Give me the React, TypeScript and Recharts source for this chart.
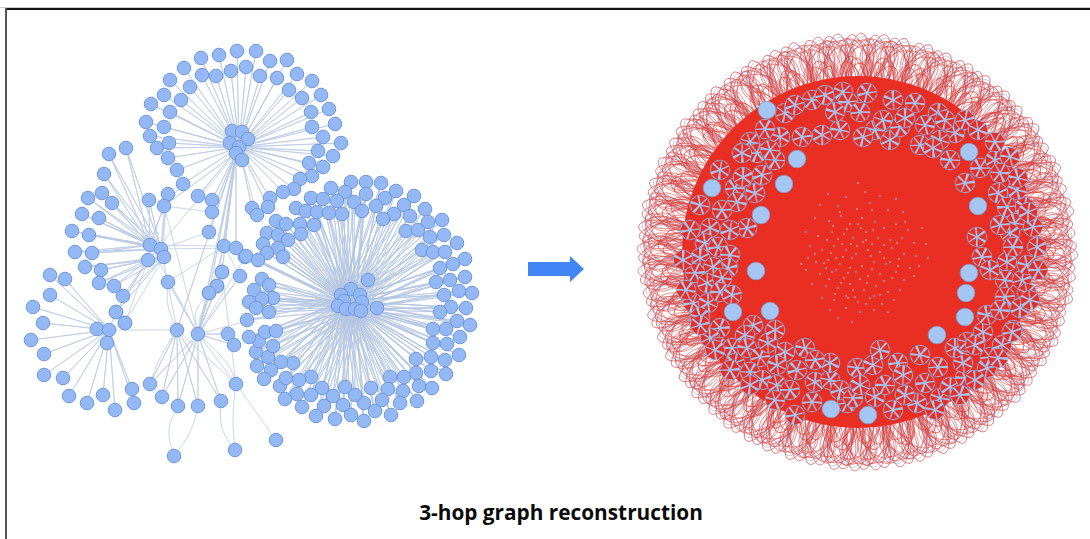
import { ComposedChart, Line, Scatter, XAxis, YAxis } from "recharts";

type Pair = [number, number];

const title = "3-hop graph reconstruction";

const topHubNodes: Pair[] = [[232,131],[242,132],[248,139],[230,143],[239,147],[236,153],[242,160]];
const topLeaves: Pair[] = [[201,58],[219,55],[237,51],[256,51],[184,68],[202,75],[216,76],[231,71],[246,67],[260,76],[170,80],[190,87],[164,95],[181,100],[151,104],[170,112],[146,122],[164,127],[150,136],[157,148],[169,143],[168,158],[177,170],[183,184],[198,196],[270,61],[287,60],[277,78],[297,74],[312,81],[289,90],[302,98],[321,95],[329,109],[311,112],[312,127],[335,124],[323,137],[341,143],[318,151],[333,156],[309,163],[323,167],[312,176],[300,179],[294,189],[283,192],[270,198],[268,207],[252,208],[257,215]];
const topCross: Pair[] = [[212,200],[212,212],[209,232],[224,246],[236,248],[222,272],[217,286],[209,293],[198,334],[177,330],[164,206],[148,260]];
const leftHub: Pair[] = [[150,245],[161,249]];
const leftLeaves: Pair[] = [[126,148],[109,154],[104,174],[102,193],[88,198],[112,203],[82,214],[99,218],[72,231],[89,235],[75,252],[92,253],[149,200],[168,194],[164,206]];
const midHub: Pair[] = [[148,260],[164,257]];
const midLeaves: Pair[] = [[85,267],[101,270],[99,283],[114,286],[123,296],[116,312],[125,323]];
const lowHub: Pair[] = [[97,329],[109,330],[107,343]];
const lowLeaves: Pair[] = [[50,275],[65,279],[50,295],[33,307],[43,323],[31,340],[44,354],[44,375],[63,378],[69,396],[87,403],[103,395],[115,410],[132,389],[134,403],[116,312],[125,323]];
const bottomHub: Pair[] = [[177,330],[198,334]];
const bottomLeaves: Pair[] = [[150,384],[162,397],[178,406],[198,406],[221,401],[236,384],[168,282],[222,272],[217,286],[209,293],[228,334],[234,345],[240,276],[245,257]];
const crossEdges: Pair[][] = [
  [[150,245],[198,334]],[[161,249],[177,330]],[[164,206],[164,257]],[[164,206],[198,334]],[[224,246],[150,245]],[[224,246],[240,276]],[[224,246],[198,334]],[[168,282],[224,246]],[[109,330],[177,330]],[[198,334],[247,321]],[[236,384],[276,440]],[[236,248],[161,249]],[[222,272],[236,384]],[[212,212],[164,206]],[[209,232],[161,249]],[[183,184],[164,206]],
];
const curvedEdges: Pair[][] = [
  [[178,406],[169,430],[174,456]],[[198,406],[190,432],[174,456]],[[221,401],[222,428],[235,450]],[[236,384],[233,418],[235,450]],[[177,330],[168,306],[168,282]],[[198,334],[202,312],[217,286]],[[198,334],[196,312],[209,293]],[[177,330],[160,358],[150,384]],[[198,334],[226,362],[236,384]],
];

const bigHubNodes: Pair[] = [[368,280],[351,289],[341,295],[360,295],[344,301],[362,302],[338,306],[346,309],[355,309],[361,311],[377,308]];
const bigLeaves: Pair[] = [[351,182],[366,182],[381,183],[396,191],[414,196],[331,188],[345,192],[366,194],[385,198],[311,198],[323,199],[337,201],[354,202],[376,206],[404,205],[425,209],[296,208],[306,211],[317,212],[329,213],[342,214],[362,211],[394,214],[410,216],[442,220],[383,219],[428,222],[276,221],[286,224],[300,224],[314,225],[406,231],[418,230],[430,237],[444,235],[457,243],[267,233],[278,235],[288,240],[301,234],[263,244],[278,248],[267,253],[283,257],[246,256],[258,260],[422,250],[433,252],[445,252],[465,259],[453,264],[440,268],[262,279],[269,285],[254,290],[273,298],[262,299],[249,302],[256,308],[269,312],[247,320],[436,282],[450,280],[465,277],[459,291],[444,295],[472,293],[451,307],[466,308],[440,312],[457,321],[470,325],[433,329],[446,329],[460,337],[433,343],[447,344],[459,355],[416,359],[431,357],[445,360],[431,371],[446,374],[416,373],[432,388],[419,386],[404,377],[390,377],[403,391],[388,389],[417,401],[400,403],[382,400],[371,388],[391,415],[375,411],[364,403],[355,395],[364,421],[351,415],[343,405],[345,387],[335,419],[333,396],[324,406],[316,416],[322,388],[311,395],[311,377],[302,407],[297,394],[299,380],[285,399],[280,386],[286,378],[293,363],[281,362],[271,370],[264,379],[257,366],[268,357],[273,346],[256,352],[259,341],[249,337],[265,332],[276,331]];
const looseNodes: Pair[] = [[276,440],[174,456],[235,450]];

const redDisk: Pair[] = [[858,252]];
const loopAnchors: Pair[] = [[1044,252],[1042,271],[1040,290],[1033,309],[1028,327],[1018,344],[1006,361],[996,376],[981,389],[968,402],[950,412],[934,421],[914,428],[897,433],[876,436],[858,437],[840,436],[820,432],[802,428],[782,421],[766,413],[748,402],[735,390],[720,376],[709,362],[697,344],[690,328],[681,309],[677,290],[672,271],[671,252],[672,233],[675,214],[681,195],[688,177],[698,160],[707,143],[722,128],[733,115],[750,102],[765,92],[784,83],[800,76],[821,71],[838,68],[858,67],[878,68],[895,71],[916,76],[932,83],[951,92],[966,102],[983,115],[994,128],[1009,143],[1017,160],[1028,177],[1033,195],[1040,214],[1041,233]];
const innerAnchors: Pair[] = [[1026,252],[1024,280],[1016,308],[1006,334],[990,358],[970,378],[948,394],[924,406],[898,416],[870,420],[842,420],[814,414],[788,404],[764,390],[742,372],[722,350],[706,326],[696,300],[690,272],[688,244],[692,216],[700,190],[712,166],[728,144],[748,126],[772,110],[798,98],[826,90],[854,86],[882,88],[910,94],[936,104],[960,118],[982,136],[1000,158],[1014,182],[1022,208],[1027,232]];
const plainNodes: Pair[] = [[712,188],[784,184],[761,215],[767,110],[756,271],[770,311],[978,206],[969,152],[966,293],[965,317],[937,335],[969,273],[831,409],[868,415],[733,312],[797,159]];
const wedgeNodes: Pair[] = [[812,100],[825,95],[843,92],[848,102],[822,135],[840,130],[802,137],[780,137],[765,129],[785,113],[750,142],[757,153],[742,153],[775,160],[762,175],[755,193],[735,188],[743,177],[737,202],[747,228],[710,228],[722,210],[730,230],[705,243],[718,247],[700,258],[730,255],[728,268],[713,267],[695,273],[707,283],[722,278],[693,303],[708,303],[720,292],[732,295],[700,317],[720,328],[710,338],[718,347],[753,325],[745,335],[732,348],[735,363],[747,348],[760,357],[768,343],[750,372],[762,380],[777,385],[790,390],[785,352],[805,348],[797,370],[777,365],[812,402],[815,382],[830,380],[847,403],[830,363],[857,368],[840,390],[873,365],[898,363],[903,375],[920,355],[893,410],[875,397],[853,398],[917,403],[940,398],[925,383],[950,387],[965,378],[987,368],[963,363],[938,367],[955,348],[967,342],[990,357],[983,332],[1013,330],[1002,345],[987,315],[982,257],[1007,262],[1005,280],[1022,280],[1027,293],[1005,297],[1020,308],[1027,265],[867,93],[893,100],[915,103],[938,113],[955,133],[920,145],[890,140],[875,130],[863,137],[940,140],[980,168],[995,160],[1010,157],[965,183],[977,237],[1000,173],[998,193],[1017,190],[1007,207],[1025,207],[1015,223],[1033,227],[1010,233],[1013,247],[1037,247],[883,120],[900,127],[933,148],[950,160],[795,105],[835,112],[860,112],[905,118],[925,125],[965,120],[978,130],[995,142],[720,170],[700,205],[690,230],[683,260],[686,290],[700,325],[715,350],[730,370],[750,385],[775,400],[795,415],[860,385],[885,385],[905,395],[935,410],[960,395],[975,380],[998,358],[1012,332],[1030,300],[1038,270],[1028,212],[1018,178],[1000,225],[990,270],[1000,310],[975,345],[880,350],[815,360],[775,330],[770,150],[945,120]];
const speckles: Pair[] = [[858,183],[865,192],[828,194],[846,197],[880,196],[896,199],[820,205],[838,206],[857,209],[870,203],[888,210],[903,212],[815,218],[829,221],[841,216],[850,224],[862,218],[875,222],[884,228],[896,224],[908,230],[922,228],[806,232],[818,236],[832,232],[844,234],[853,238],[866,232],[878,238],[890,240],[902,238],[914,243],[926,244],[810,246],[822,250],[834,246],[846,250],[857,246],[868,250],[880,252],[892,248],[904,254],[916,256],[928,258],[808,258],[816,262],[828,260],[840,264],[852,258],[862,266],[874,262],[886,264],[898,266],[910,268],[806,270],[820,274],[832,272],[844,278],[856,272],[868,276],[880,274],[892,278],[904,280],[914,276],[812,284],[826,286],[838,288],[850,284],[864,290],[876,286],[888,292],[900,290],[822,298],[834,300],[846,296],[858,302],[870,298],[882,304],[894,300],[830,310],[846,308],[860,312],[874,310],[888,312],[848,298],[836,258],[872,244],[850,268],[858,224],[842,244],[826,268],[890,262],[874,296],[840,212],[866,240],[833,226],[847,229],[861,228],[873,230],[827,240],[838,239],[851,244],[863,242],[884,245],[897,243],[815,254],[831,253],[843,257],[856,254],[871,256],[884,258],[899,259],[824,263],[836,270],[848,273],[860,279],[872,269],[884,281],[896,272],[829,279],[841,283],[853,290],[867,283],[880,295],[835,294],[855,297],[866,304],[801,264],[919,266],[905,222],[872,210],[838,318],[852,322]];
const arrowPoint: Pair[] = [[528,269]];

const toPoints = (pairs: Pair[]) => pairs.map(([x, y]) => ({ x, y }));
const star = (hub: Pair, leaves: Pair[]) =>
  leaves.flatMap((leaf) => [
    { x: hub[0], y: hub[1] },
    { x: leaf[0], y: leaf[1] },
  ]);

const leftNodes = toPoints([
  ...topHubNodes, ...topLeaves, ...topCross.slice(0, 8), ...leftHub, ...leftLeaves,
  ...midHub, ...midLeaves, ...lowHub, ...lowLeaves, ...bottomHub, ...bottomLeaves,
  ...bigHubNodes, ...bigLeaves, ...looseNodes,
]);

const edgeLine = { stroke: "#bccce5", strokeWidth: 0.8 };
const bigEdgeLine = { stroke: "#b4c6e2", strokeWidth: 0.7 };
const noDot = () => <g />;

function GraphNode({ cx, cy }: any) {
  return <circle cx={cx} cy={cy} r={6.8} fill="#93b8f3" stroke="#6f97da" strokeWidth={1} />;
}

function Disk({ cx, cy }: any) {
  return <circle cx={cx} cy={cy} r={176} fill="#e92e24" />;
}

function Loops({ cx, cy, color, tilt, rx, ry, opacity }: any) {
  const angle = (Math.atan2(cy - 252, cx - 858) * 180) / Math.PI + 90;
  return (
    <g transform={`rotate(${angle + tilt} ${cx} ${cy})`}>
      <ellipse cx={cx} cy={cy} rx={rx} ry={ry} fill="none" stroke={color} strokeWidth={0.8} opacity={opacity} />
    </g>
  );
}

function PlainNode({ cx, cy }: any) {
  return <circle cx={cx} cy={cy} r={8.8} fill="#a5c5f3" stroke="#7f9fce" strokeWidth={0.8} />;
}

const wedgeTurns = [0, 60, 125, 190, 250, 305];
function WedgeNode({ cx, cy, index }: any) {
  const spin = (index * 37) % 360;
  return (
    <g>
      <circle cx={cx} cy={cy} r={10} fill="#a5c5f3" stroke="#7f9fce" strokeWidth={0.5} />
      {wedgeTurns.map((turn) => (
        <path
          key={turn}
          d={`M${cx - 4} ${cy - 9}L${cx + 4} ${cy - 9}L${cx} ${cy - 1.5}Z`}
          fill="#e92e24"
          transform={`rotate(${turn + spin} ${cx} ${cy})`}
        />
      ))}
    </g>
  );
}

function Speckle({ cx, cy }: any) {
  return <circle cx={cx} cy={cy} r={1} fill="#c9a6ae" opacity={0.85} />;
}

function Arrow({ cx, cy }: any) {
  return (
    <path
      d={`M${cx} ${cy - 7}H${cx + 42}V${cy - 13}L${cx + 56} ${cy}L${cx + 42} ${cy + 13}V${cy + 7}H${cx}Z`}
      fill="#4285f4"
    />
  );
}

const loopStyles = [
  { color: "#a9bfdf", tilt: 12, rx: 13, ry: 31, opacity: 0.85 },
  { color: "#a9bfdf", tilt: -18, rx: 12, ry: 28, opacity: 0.7 },
  { color: "#d8484a", tilt: -34, rx: 15, ry: 26, opacity: 0.7 },
  { color: "#d8484a", tilt: -22, rx: 14, ry: 30, opacity: 0.75 },
  { color: "#d8484a", tilt: -12, rx: 11, ry: 33, opacity: 0.8 },
  { color: "#d8484a", tilt: -3, rx: 13, ry: 27, opacity: 0.8 },
  { color: "#d8484a", tilt: 6, rx: 11, ry: 34, opacity: 0.8 },
  { color: "#d8484a", tilt: 16, rx: 14, ry: 28, opacity: 0.8 },
  { color: "#d8484a", tilt: 26, rx: 12, ry: 31, opacity: 0.75 },
  { color: "#d8484a", tilt: 36, rx: 15, ry: 25, opacity: 0.7 },
];
const innerStyles = [
  { color: "#e03a34", tilt: -20, rx: 10, ry: 26, opacity: 0.85 },
  { color: "#e03a34", tilt: -6, rx: 12, ry: 30, opacity: 0.85 },
  { color: "#e03a34", tilt: 8, rx: 10, ry: 28, opacity: 0.85 },
  { color: "#e03a34", tilt: 22, rx: 12, ry: 24, opacity: 0.85 },
];

export default function App() {
  return (
    <div style={{ position: "absolute", left: 0, top: 0, width: 1090, height: 539, background: "#fff", overflow: "hidden" }}>
      <div style={{ position: "absolute", left: 0, top: 7, width: 1090, height: 1, background: "#c8c8c8" }} />
      <div style={{ position: "absolute", left: 5, top: 8, width: 1085, height: 1.5, background: "#111" }} />
      <div style={{ position: "absolute", left: 5, top: 8, width: 1.5, height: 531, background: "#555" }} />
      <ComposedChart width={1090} height={539} margin={{ top: 0, right: 0, bottom: 0, left: 0 }}>
        <XAxis dataKey="x" type="number" domain={[0, 1090]} hide />
        <YAxis dataKey="y" type="number" domain={[0, 539]} reversed hide />

        <Scatter data={star(topHubNodes[4], topLeaves)} line={edgeLine} shape={noDot} isAnimationActive={false} />
        <Scatter data={star(topHubNodes[5], topCross)} line={edgeLine} shape={noDot} isAnimationActive={false} />
        {leftHub.map((hub, i) => (
          <Scatter key={`left${i}`} data={star(hub, leftLeaves)} line={edgeLine} shape={noDot} isAnimationActive={false} />
        ))}
        {midHub.map((hub, i) => (
          <Scatter key={`mid${i}`} data={star(hub, midLeaves)} line={edgeLine} shape={noDot} isAnimationActive={false} />
        ))}
        <Scatter data={star(lowHub[1], lowLeaves)} line={edgeLine} shape={noDot} isAnimationActive={false} />
        {bottomHub.map((hub, i) => (
          <Scatter key={`bot${i}`} data={star(hub, bottomLeaves.slice(0, 6))} line={edgeLine} shape={noDot} isAnimationActive={false} />
        ))}
        <Scatter data={star(bottomHub[1], bottomLeaves.slice(6))} line={edgeLine} shape={noDot} isAnimationActive={false} />
        {crossEdges.map((edge, i) => (
          <Scatter key={`cross${i}`} data={toPoints(edge)} line={edgeLine} shape={noDot} isAnimationActive={false} />
        ))}
        {curvedEdges.map((edge, i) => (
          <Line key={`curve${i}`} data={toPoints(edge)} dataKey="y" type="natural" dot={false} activeDot={false} stroke="#bccce5" strokeWidth={0.8} isAnimationActive={false} />
        ))}
        <Scatter data={star(bigHubNodes[4], bigLeaves)} line={bigEdgeLine} shape={noDot} isAnimationActive={false} />
        <Scatter data={star(bigHubNodes[8], bigLeaves)} line={bigEdgeLine} shape={noDot} isAnimationActive={false} />
        <Scatter data={leftNodes} shape={<GraphNode />} isAnimationActive={false} />

        <Scatter data={toPoints(arrowPoint)} shape={<Arrow />} isAnimationActive={false} />

        {loopStyles.map((style, i) => (
          <Scatter key={`loop${i}`} data={toPoints(loopAnchors)} shape={<Loops {...style} />} isAnimationActive={false} />
        ))}
        {innerStyles.map((style, i) => (
          <Scatter key={`inner${i}`} data={toPoints(innerAnchors)} shape={<Loops {...style} />} isAnimationActive={false} />
        ))}
        <Scatter data={toPoints(redDisk)} shape={<Disk />} isAnimationActive={false} />
        <Scatter data={toPoints(speckles)} shape={<Speckle />} isAnimationActive={false} />
        <Scatter data={toPoints(wedgeNodes)} shape={<WedgeNode />} isAnimationActive={false} />
        <Scatter data={toPoints(plainNodes)} shape={<PlainNode />} isAnimationActive={false} />
      </ComposedChart>
      <div
        style={{
          position: "absolute",
          left: 0,
          width: 1122,
          top: 498,
          textAlign: "center",
          font: "700 20.8px 'Open Sans', sans-serif",
          color: "#0b0b0b",
        }}
      >
        {title}
      </div>
    </div>
  );
}
